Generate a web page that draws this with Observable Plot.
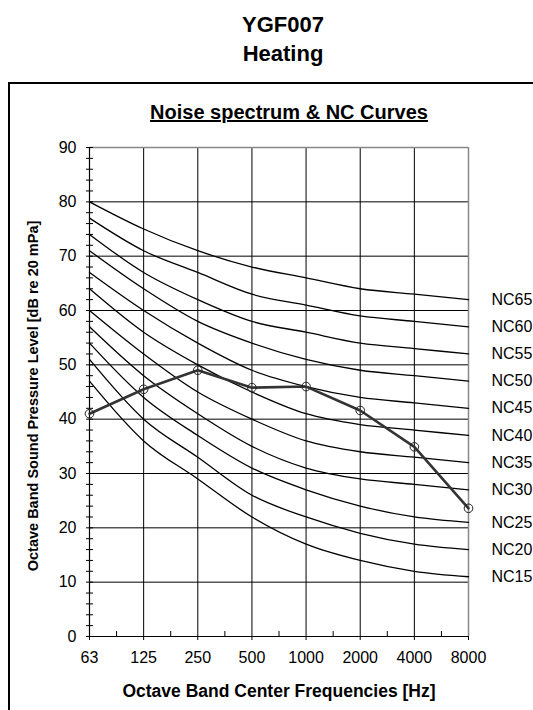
<!DOCTYPE html>
<html>
<head>
<meta charset="utf-8">
<script src="https://cdn.jsdelivr.net/npm/d3@7"></script>
<script src="https://cdn.jsdelivr.net/npm/@observablehq/plot@0.6"></script>
<style>
  html, body { margin: 0; padding: 0; background: #fff; }
  body { width: 533px; height: 710px; overflow: hidden; position: relative; font-family: "Liberation Sans", Arial, sans-serif; }
  #title { position: absolute; left: 0; top: 10px; width: 566px; text-align: center; font-weight: bold; font-size: 22px; line-height: 29px; color: #000; }
  #box { position: absolute; left: 8px; top: 82px; width: 700px; height: 800px; border: 2px solid #000; box-sizing: border-box; }
  #ctitle { position: absolute; left: 0; top: 101px; width: 578px; text-align: center; font-weight: bold; font-size: 20px; line-height: 22px; text-decoration: underline; color: #000; }
  #chart { position: absolute; left: 0; top: 130px; }
</style>
</head>
<body>
<div id="title">YGF007<br>Heating</div>
<div id="box"></div>
<div id="ctitle">Noise spectrum &amp; NC Curves</div>
<div id="chart"></div>
<script>
const freqLabels = ["63", "125", "250", "500", "1000", "2000", "4000", "8000"];
const ncNames = ["NC15", "NC20", "NC25", "NC30", "NC35", "NC40", "NC45", "NC50", "NC55", "NC60", "NC65"];
const nc15 = [47, 36, 29, 22, 17, 14, 12, 11];
const nc20 = [51, 40, 33, 26, 22, 19, 17, 16];
const nc25 = [54, 44, 37, 31, 27, 24, 22, 21];
const nc30 = [57, 48, 41, 35, 31, 29, 28, 27];
const nc35 = [60, 52, 45, 40, 36, 34, 33, 32];
const nc40 = [64, 56, 50, 45, 41, 39, 38, 37];
const nc45 = [67, 60, 54, 49, 46, 44, 43, 42];
const nc50 = [71, 64, 58, 54, 51, 49, 48, 47];
const nc55 = [74, 67, 62, 58, 56, 54, 53, 52];
const nc60 = [77, 71, 67, 63, 61, 59, 58, 57];
const nc65 = [80, 75, 71, 68, 66, 64, 63, 62];
const measured = [41, 45.5, 49, 45.8, 46, 41.6, 34.9, 23.6];
const yTicks = [0, 10, 20, 30, 40, 50, 60, 70, 80, 90];
const yLabel = "Octave Band Sound Pressure Level [dB re 20 mPa]";
const xLabel = "Octave Band Center Frequencies [Hz]";

const ncSeries = [nc15, nc20, nc25, nc30, nc35, nc40, nc45, nc50, nc55, nc60, nc65];
const ncTable = ncSeries.flatMap((vals, k) => vals.map((v, i) => ({name: ncNames[k], i, v})));
const ncEnds = ncSeries.map((vals, k) => ({name: ncNames[k], i: vals.length - 1, v: vals[vals.length - 1]}));
const measTable = measured.map((v, i) => ({i, v}));
const idx = d3.range(freqLabels.length);
const last = freqLabels.length - 1;

const plot = Plot.plot({
  width: 533,
  height: 580,
  marginTop: 17,
  marginBottom: 74,
  marginLeft: 89,
  marginRight: 65,
  style: {fontFamily: "'Liberation Sans', Arial, sans-serif", fontSize: "16px", color: "#000", background: "transparent", overflow: "visible"},
  x: {type: "linear", domain: [0, last], axis: null},
  y: {domain: [0, 90], axis: null},
  marks: [
    Plot.ruleX(idx.slice(1, last), {stroke: "#000", strokeWidth: 1}),
    Plot.ruleY(yTicks.slice(1, -1), {stroke: "#000", strokeWidth: 1}),
    Plot.ruleY([90], {stroke: "#888", strokeWidth: 1.5}),
    Plot.ruleX([last], {stroke: "#888", strokeWidth: 1.5}),
    Plot.line(ncTable, {x: "i", y: "v", z: "name", stroke: "#000", strokeWidth: 1.3, curve: "monotone-x"}),
    Plot.ruleX([0], {stroke: "#000", strokeWidth: 1.2}),
    Plot.ruleY([0], {stroke: "#000", strokeWidth: 1.2}),
    Plot.axisY(d3.range(0, 91, 2), {tickSize: 7, dx: 4, text: null, label: null, stroke: "#000", strokeWidth: 1}),
    Plot.axisY(yTicks, {tickSize: 0, tickPadding: 13, fontSize: 16, label: null}),
    Plot.axisX(idx, {tickSize: 4, tickPadding: 11, tickFormat: i => freqLabels[i], fontSize: 16, stroke: "#000", label: null}),
    Plot.axisX(d3.range(0.5, last, 1), {tickSize: 5, dy: -5, text: null, label: null, stroke: "#000"}),
    Plot.line(measTable, {x: "i", y: "v", stroke: "#333", strokeWidth: 2.6}),
    Plot.dot(measTable, {x: "i", y: "v", r: 4.3, stroke: "#222", strokeWidth: 1, fill: "none"}),
    Plot.text(ncEnds, {x: "i", y: "v", text: "name", dx: 23, textAnchor: "start", fontSize: 16}),
    Plot.text([yLabel], {frameAnchor: "left", dx: -56, dy: 4, rotate: -90, textAnchor: "middle", lineAnchor: "middle", text: d => d, fontSize: 14.5, fontWeight: "bold", letterSpacing: "0.8px"}),
    Plot.text([xLabel], {frameAnchor: "bottom", dy: 55, textAnchor: "middle", lineAnchor: "middle", text: d => d, fontSize: 17.5, fontWeight: "bold", letterSpacing: "0.9px"})
  ]
});
document.getElementById("chart").appendChild(plot);
</script>
</body>
</html>
